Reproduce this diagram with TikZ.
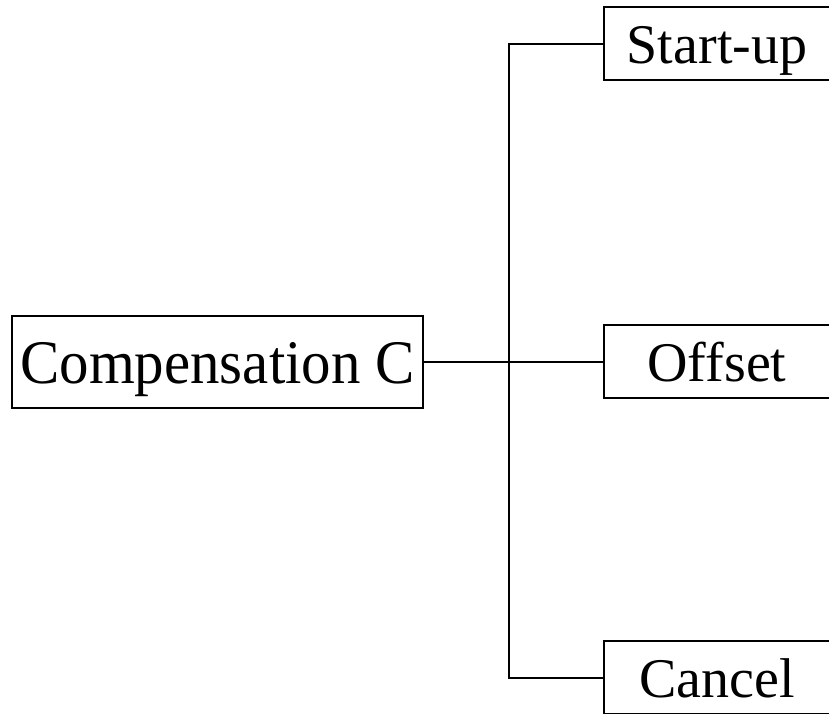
\documentclass[tikz,border=0pt]{standalone}
\usepackage{fontspec}
\setmainfont{Liberation Serif}
\usepackage{graphicx}
\usetikzlibrary{positioning}
\tikzstyle{rootbox} = [rectangle, draw=black, line width=1pt, minimum width=205.5pt, minimum height=46pt, inner sep=0pt, text height=27pt, text depth=5pt, text centered, font=\fontsize{31}{34}\selectfont]
\tikzstyle{leafbox} = [rectangle, draw=black, line width=1pt, minimum width=113pt, minimum height=36.5pt, inner sep=0pt, text height=24pt, text depth=4.5pt, text centered, font=\fontsize{28}{31}\selectfont]
\tikzstyle{link} = [line width=1pt]

\begin{document}
\begin{tikzpicture}[x=0.5pt, y=-0.5pt]

    \useasboundingbox (0,0) rectangle (829,713);
    \clip (0,0) rectangle (829,713);

    % Nodes
    \node (comp) [rootbox] at (217.5,361.5) {\scalebox{0.95}[1]{Compensation C}};
    \node (startup) [leafbox] at (717,43.5) {Start-up};
    \node (offset) [leafbox] at (717,361.5) {Offset};
    \node (cancel) [leafbox] at (717,677.5) {Cancel};
    \coordinate (junc) at (509,361.5);

    % Lines
    \draw [link] (comp.east) -- (offset.west);
    \draw [link] (startup.west) -| (junc) |- (cancel.west);

\end{tikzpicture}
\end{document}
